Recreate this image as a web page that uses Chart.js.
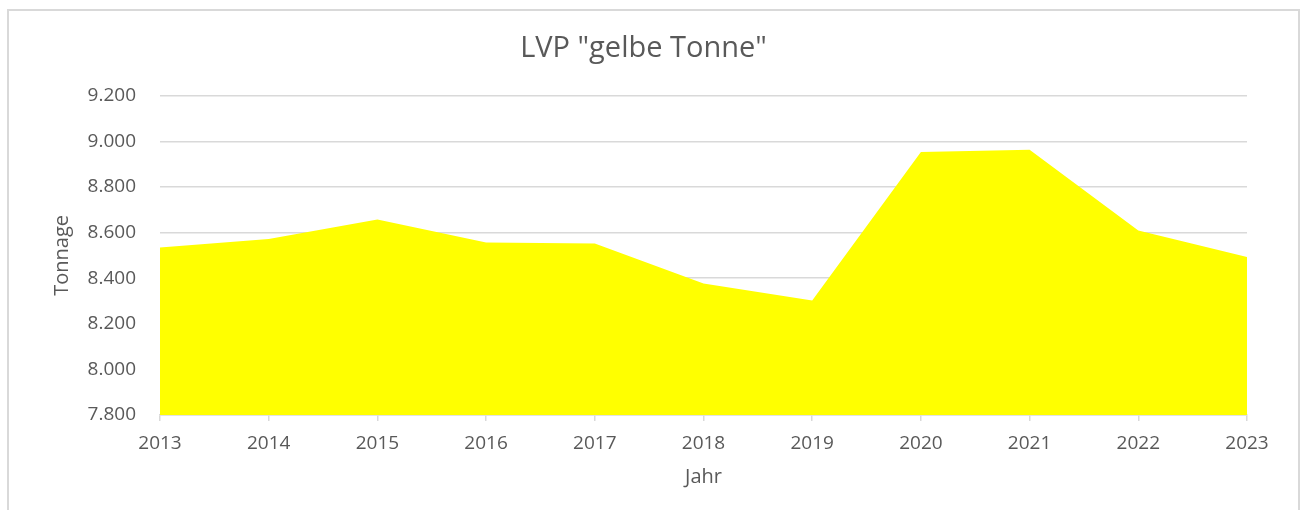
<!DOCTYPE html>
<html>
<head>
<meta charset="utf-8">
<script src="https://cdn.jsdelivr.net/npm/chart.js@4.4.1/dist/chart.umd.min.js"></script>
<style>
  body { margin: 0; background: #fff; }
  #rahmen {
    position: absolute; left: 7px; top: 9px;
    width: 1289px; height: 600px;
    border: 2px solid #d9d9d9;
  }
  #grafico { position: absolute; left: 0; top: 0; }
</style>
</head>
<body>
<div id="rahmen"></div>
<canvas id="grafico" width="1306" height="510"></canvas>
<script>
// LVP gelbe Tonne

const jahre = ['2013', '2014', '2015', '2016', '2017', '2018', '2019', '2020', '2021', '2022', '2023']
const tonnage = [8535, 8572, 8657, 8557, 8552, 8377, 8302, 8953, 8963, 8609, 8493]
const yMin = 7800
const yMax = 9200
const ySchritt = 200

const cinza = '#595959'
const linhaGrade = '#d9d9d9'
const fonte = '"Open Sans", sans-serif'

function formataZahl(valor) {
  return String(valor).replace(/\B(?=(\d{3})+(?!\d))/g, '.')
}

const grafico = document.getElementById('grafico')

const graficoLvp = new Chart(grafico, {
  type: 'line',
  data: {
    labels: jahre,
    datasets: [{
      label: 'Tonnage',
      data: tonnage,
      fill: 'start',
      backgroundColor: '#ffff00',
      borderWidth: 0,
      pointRadius: 0,
      tension: 0
    }]
  },
  options: {
    responsive: false,
    animation: false,
    layout: { padding: { left: 40, right: 59, top: 0, bottom: 0 } },
    plugins: {
      legend: { display: false },
      tooltip: { enabled: false },
      title: {
        display: true,
        text: 'LVP "gelbe Tonne"',
        color: cinza,
        font: { family: fonte, size: 29, weight: 'normal' },
        padding: { top: 31, bottom: 30 }
      }
    },
    scales: {
      x: {
        offset: false,
        grid: {
          drawOnChartArea: false,
          drawTicks: true,
          tickLength: 6,
          color: linhaGrade,
          lineWidth: 1.5
        },
        border: { display: true, color: linhaGrade, width: 1.5 },
        ticks: {
          color: cinza,
          font: { family: fonte, size: 19 },
          padding: 11,
          maxRotation: 0,
          autoSkip: false
        },
        title: {
          display: true,
          text: 'Jahr',
          color: cinza,
          font: { family: fonte, size: 20 },
          padding: { top: 0, bottom: 21 }
        },
        afterFit: (scale) => { scale.height = 95 }
      },
      y: {
        min: yMin,
        max: yMax,
        grid: {
          color: linhaGrade,
          lineWidth: 1.5,
          drawTicks: false
        },
        border: { display: false },
        ticks: {
          stepSize: ySchritt,
          color: cinza,
          font: { family: fonte, size: 19 },
          padding: 24,
          callback: (valor) => formataZahl(valor)
        },
        title: {
          display: true,
          text: 'Tonnage',
          color: cinza,
          font: { family: fonte, size: 20 },
          padding: { top: 10, bottom: 0 }
        },
        afterFit: (scale) => { scale.width = 120 }
      }
    }
  }
})
</script>
</body>
</html>
